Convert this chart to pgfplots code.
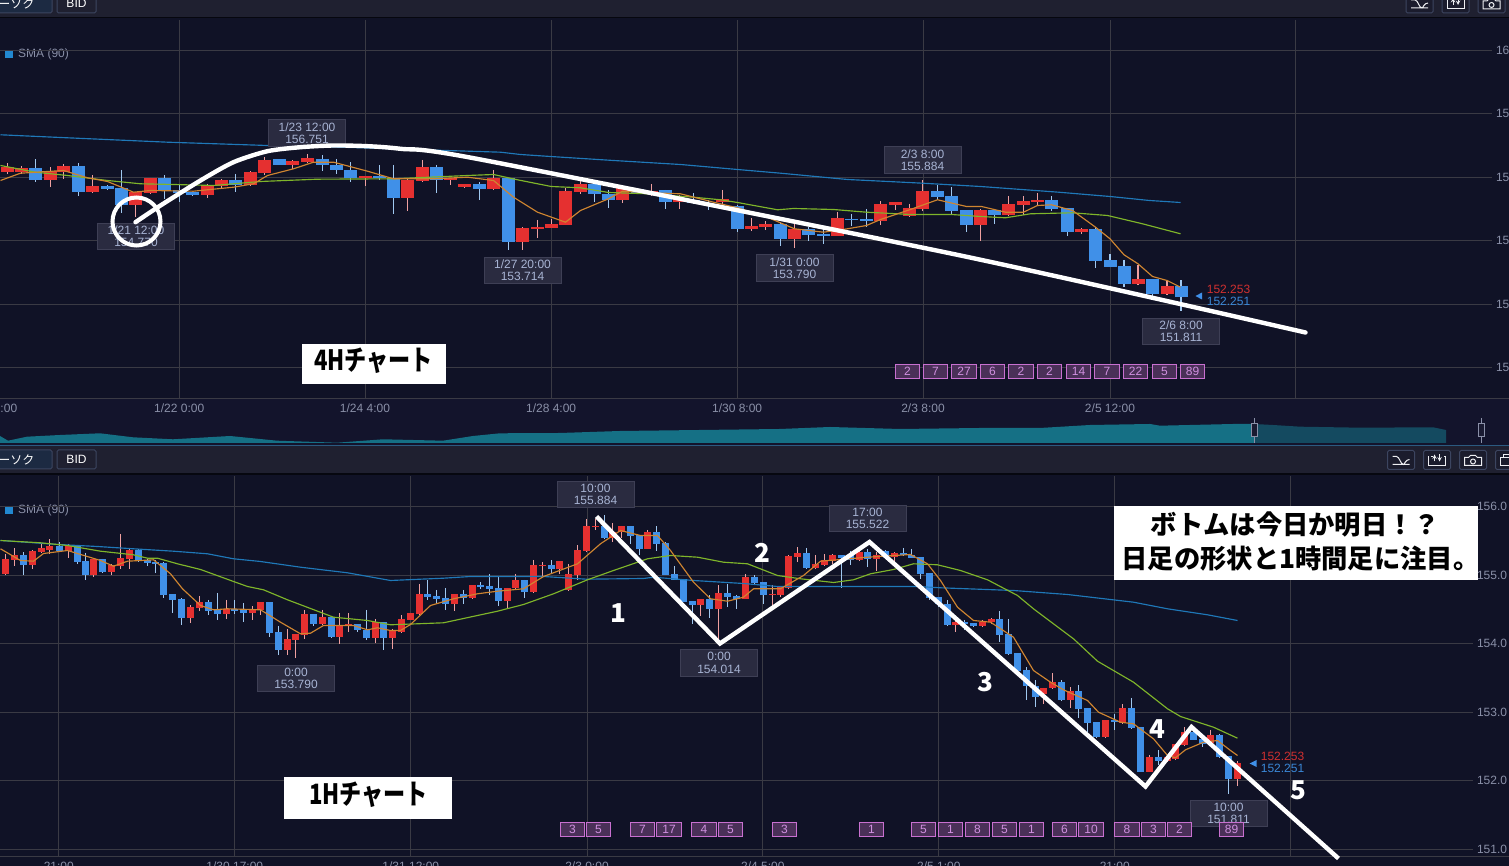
\documentclass[border=0pt]{standalone}
\usepackage{pgfplots}
\usepackage{pgfplotstable}
\usepackage{fontspec}
\pgfplotsset{compat=1.18}
\setmainfont{Liberation Sans}
\newfontfamily\jp{Noto Sans CJK JP}
\definecolor{panel}{HTML}{101226}
\definecolor{strip}{HTML}{13142C}
\definecolor{hdr}{HTML}{1F2030}
\definecolor{gridc}{HTML}{3A3A44}
\definecolor{axt}{HTML}{8A90A8}
\definecolor{bodyB}{HTML}{4090E8}
\definecolor{bodyR}{HTML}{E53030}
\definecolor{wickB}{HTML}{A0C8F0}
\definecolor{wickR}{HTML}{F0A0A0}
\definecolor{smaB}{HTML}{1F78B8}
\definecolor{smaG}{HTML}{7FB52A}
\definecolor{smaO}{HTML}{CF8530}
\definecolor{labF}{HTML}{2A2B40}
\definecolor{labD}{HTML}{3E3F55}
\definecolor{labT}{HTML}{A8B4D4}
\definecolor{bdgF}{HTML}{4A3058}
\definecolor{bdgD}{HTML}{C870D0}
\definecolor{bdgT}{HTML}{D090E0}
\definecolor{priceR}{HTML}{D03030}
\definecolor{priceB}{HTML}{3A88D8}
\definecolor{teal}{HTML}{157085}
\definecolor{tealD}{HTML}{144A60}
\definecolor{icn}{HTML}{3C4560}
\definecolor{sepc}{HTML}{2B5A80}
\definecolor{legb}{HTML}{2288D0}
\definecolor{btnL}{HTML}{1C2A42}

% x, body top, body bottom, high, low (screen positions of the price scale)
\pgfplotstableread{
x t b h l
35.3 167.3 180 158.7 181.7
78.3 165.3 191.7 162.3 195.7
106.7 186 188.7 185 189.3
121.3 188 204.7 169.3 212.7
164 177.3 190 175 198.3
178.7 189.3 192.7 185 201.7
192.3 192 195 191.7 195.3
235.3 180 185 173.3 191.7
278.7 159 165 159 165
321.7 158.3 165 155 170.7
335.7 164.3 170 158.3 174
350.3 169.3 177.7 162 181.7
378.7 176 178 165 180
393.3 177.3 197.7 164.3 213.3
436.3 167 180 164.3 192.3
479.3 184 189 181.7 199.3
507.7 177.3 241.7 177.3 249.3
593.7 184 194 181.7 201.7
608 193.3 200 190 207.7
636.7 188.7 193.3 187.3 194
665.3 189.3 202 189.3 208.3
693.3 199.7 202.7 192.3 203.3
708 203.3 205 200 210
736.7 206 228.7 205 231.7
779.7 224 239 221.7 245.7
808.3 228.7 235 226.7 240.7
822.7 234 236 228.3 243.3
851.3 218.3 220 214 226
865.7 219 221 208.3 226.7
937.3 191 197 185 199.3
951.3 196 211 186.7 215
965.7 210 225 210 231.7
994 210 215 208.3 223.3
1051 200 209 196 210.7
1067 208 232 208 235.7
1095 229 261 226.7 267.7
1109.5 260 267 254 267
1123.5 266 284 259.3 286.7
1152 279 294 279 296
1180.5 286 297 280 310.7
}\topB
\pgfplotstableread{
x t b h l
6.7 167 172 163 174
20.7 167.3 172 166 173.3
49.7 170.7 180 166.7 186.7
63.3 165.3 171.3 164 178.3
92.3 186 192 175 192.7
135.3 192 204.7 191.7 216.7
149.7 177.3 192.7 177.3 193.3
207.3 185.3 195 183.3 197.3
221.3 180 186 178.7 187.3
250.3 172 185 170.7 186
264.3 159.3 172.7 156.7 175
292.3 161 164.7 160 168.3
307.3 158 162 153.3 162.7
364.7 176 177.7 176 185.7
407.3 180 197.7 179 210.7
421.7 167 180.7 159.3 181.3
450.3 177.3 180 177.3 185
464.3 184 187 184 187.3
493.3 177.3 189 169.3 189.3
522.3 228 241.7 226.7 249.3
536.7 227 228.7 219.3 237.7
550.7 223.3 227.7 218.3 228
565.3 191 224.3 187.3 224.7
579.7 184 191.7 179.3 193.3
622.3 187 200 186.7 202.7
650.7 190.7 193.3 183.3 195.3
679.3 198 202 195 208.7
722.3 198.3 201.7 189.3 204
751.3 226 229 217.3 230.7
765.3 224 227 220.7 230
794.3 228.7 239 224 247.3
837.3 218 235.7 211.3 236
880.3 204 220.7 201 224.7
894.7 202 205 202 210
908.7 208 216 203.3 216.7
922.3 191 209 180 210.7
980 210 225 208.3 240.7
1008 204 215 196 215.7
1023 201 205 196 214.3
1037 200 202 192.7 206
1081 229 232 227.3 234
1137.5 279 284 265 285
1166.5 286 294 279.3 295
}\topR
\pgfplotstableread{
x t b h l
23.3 555 565 551.7 574.3
58.7 546 551 541.7 551
76.7 544.3 562 544.3 563.3
84.7 561 575 552.3 579.3
102.3 559 572 558.3 572.3
137.7 550 560.3 548.3 561.7
146.7 560 563 558.3 565.7
155.3 561.7 564 559.3 572.7
163.3 563 595 561.7 597.7
172.3 594 600 594 612.3
181.3 599 618 597.7 624.3
207.7 602 611 599.3 614.7
216.7 609.3 614 592.3 619.3
234.3 608.7 611 599.3 613.3
243.3 610 612.7 602.3 621.3
269.3 602 633 602 636.7
278.3 632 650 625.3 654.7
313.3 614 624 614 625.3
331.3 617 637 617 638
357.3 624 630 624 631.7
366.3 630 638 609.3 640
383.3 622 638 621.3 649.3
427.3 594 597 579.3 600
436.3 596 599 589.3 603.3
445.3 598 604 587.3 610
463.3 594 598 589.3 604
480.3 585 587 581.7 588.3
489.3 586 589 573.3 595
498.3 588 601 576 606
524.3 580 592 579.3 597.7
551.3 565 569 560 572.7
603.7 526 538 515 539
630.3 526 536 526 543.3
639.3 535 549 535 555
656.3 532 544 526 550.7
665.3 543 575 542 575
674.3 574 579.3 565.3 580
683.3 578.3 602 578.3 602
691.7 601 605 601 624
709.3 599 609 595 617.3
727.3 593 597 584 606.7
736.3 596 599 595 608.3
753.7 577 583 575 583.3
762.7 582 595 582 604
806.3 553 568 547.3 568.7
841.3 555 558 555 587.3
850 555 560 550.7 564.7
867.3 552 559 548.3 566.7
885.3 551 557 550 557.3
903.3 553 555 547.3 556
911.3 554.3 558 548.3 558
920.3 557 574 557 578.3
929.3 573 598 573 600
938.3 597 604 597 606.7
947.3 604 625 600 626
964.3 622 624 620 629.3
973.3 623 626 623 626.7
999.3 619 635 611 641.7
1008.3 634 654 618.3 655
1017.3 653 671 653 671.7
1026.3 670 686 666.7 700
1035.3 685.3 696.7 680 706.7
1061.3 682 700 680 700.7
1078.3 691 709 685 717.3
1087.3 708 723 708 731.7
1096.3 722 737 722 737.3
1114.3 720 722 713.3 730
1131.3 708 728 697.3 728.3
1140.3 727 772 727 772
1158.3 757 761 750 765
1193.3 732 740 726.7 740
1202.3 739 743.3 735 746.7
1219.3 735 757 733.3 757.3
1228.3 756 779 756 794
}\botB
\pgfplotstableread{
x t b h l
5.3 559 574 553.3 575
14.3 555 560 547.3 565.7
32.3 551 565 550 568.7
40.7 547.7 552 543.3 552.7
49.3 546 549.3 539 553.3
67.7 545.3 551 543.3 557.3
93.3 559 575 558.3 576.7
111.3 565 572 563.3 574.3
120.3 558 566 533.3 568.3
128.7 550 559 548.3 568.7
190.3 607 618 605 622.3
199.3 602 608 596 610.7
225.7 608.3 614 599.3 618.7
251.7 609 612.7 606 620
260.3 602 610 602 615
287.3 639 650 628.3 654.7
295.3 634 640 634 657.3
304.3 614 634.7 610 638.7
322.3 617 624 609.3 624.7
339.3 625 637 612.7 643.7
348.3 624 625.7 612.3 631.7
375.3 622 638 618.3 643
392.3 631 638 628.3 648.7
401.3 619 632 614.3 632.7
410.3 613 620 613 620
419.3 594 614 583.3 614.7
454.3 594 604 594 611
471.7 585 598 585 598.7
507.3 587.3 601 587.3 608.3
515.3 580 588 574 589
533.3 565 592 559.3 592.3
542.3 565 566 561.7 576
559.3 561 569 561 573.3
568.3 574 590 563.3 590.7
577.3 550 575 545 580
586.3 526 551 519 551.7
595.3 526 527 518.3 530
612.3 532 538 522.3 541.7
621.3 526 532 525.3 537.3
647.3 532 549 529.3 549
700.3 599 605 599 616
718.3 593 609 584.7 640
744.7 577 599 574 599
771.7 594 595 585 606.7
780 587 595 587 596.7
788.3 556 588 555 588.3
797.3 553 557 546.7 561.7
815.3 564 568 555 568.7
823.7 560 565 554 566
832 555 561 554 563.3
859.3 552 560 548 560.7
876.3 555 559 552 570.7
894.3 553 557 552 565
955.3 622 625 620 631.7
982.3 622 626 620 626.7
991.3 619 622 618 623.3
1043.3 687.3 694 687.3 704
1052.3 682 688 673 688.3
1070.3 691 700 686.7 707.3
1105.3 720 737 720 737.3
1122.3 708 723 704 723.3
1149.3 757 772 755 772
1167.3 757 761 756 761.7
1175.3 744 759 744 759.3
1184.3 732 745 726.7 745.3
1210.3 735 743 729.3 743.3
1237.3 763 779 761 786
}\botR

\newcommand\candles[4]{%
 \addplot[draw=none,forget plot,error bars/.cd,y dir=plus,y explicit,error mark=none,
   error bar style={line width=1.2pt,draw=#2}]
   table[x=x,y=h,y error plus expr=\thisrow{l}-\thisrow{h}] {#1};
 \addplot[draw=none,forget plot,error bars/.cd,y dir=plus,y explicit,error mark=none,
   error bar style={line width=#4,draw=#3}]
   table[x=x,y=t,y error plus expr=\thisrow{b}-\thisrow{t}] {#1};
}
\tikzset{
 lab/.style={fill=labF,draw=labD,line width=1pt,text=labT,align=center,inner sep=0pt,
   minimum width=77pt,minimum height=26.5pt,font=\fontsize{12}{12.3}\selectfont},
 bdg/.style={fill=bdgF,draw=bdgD,line width=1pt,text=bdgT,inner sep=0pt,
   minimum width=24.5pt,minimum height=14.3pt,font=\fontsize{12}{12}\selectfont},
 wbox/.style={fill=white,inner sep=0pt},
 wtxt/.style={text=black,inner sep=0pt,font=\jp\bfseries\fontsize{26.3}{26.3}\selectfont},
 wcond/.style={text=black,inner sep=0pt,xscale=.79,font=\jp\bfseries\fontsize{28}{28}\selectfont},
 wnum/.style={text=white,font=\jp\bfseries\fontsize{26}{26}\selectfont,inner sep=0pt},
}
\newcommand\lab[3]{\node[lab] at (axis cs:#1) {#2\\#3};}
\newcommand\bdg[2]{\node[bdg] at (axis cs:#1) {#2};}
\pgfplotsset{panel/.style={
  scale only axis,anchor=south west,y dir=reverse,clip=false,
  axis line style={draw=none},major tick length=0pt,
  grid=major,grid style={gridc,line width=1pt},
  xticklabel pos=lower,yticklabel pos=right,
  tick label style={font=\fontsize{12}{14}\selectfont,text=axt},
  xticklabel style={anchor=center,yshift=-9.5pt},
  yticklabel style={anchor=west,xshift=1pt},
  sma/.style={line width=1.15pt}
}}
\newcommand\icons{%
 \draw[icn,fill=hdr!70!panel,line width=1pt,rounded corners=1.5pt] (0,0) rectangle (27,19) (36,0) rectangle (63,19) (72,0) rectangle (99,19) (108,0) rectangle (135,19);
 \begin{scope}[white!85!axt,line width=1pt]
 \draw (5,14) -- (22,14) (5,6) -- (9,6) .. controls (12,6) and (13,14) .. (16,14) .. controls (17,14) and (18,9) .. (22,9);
 \draw (41,6) -- (41,15) -- (58,15) -- (58,6) -- (56,6) (43,6) -- (45,6);
 \draw[-stealth] (47,11) -- (47,4);
 \draw[-stealth] (52,4) -- (52,11);
 \draw (77,7) -- (81,7) -- (83,5) -- (88,5) -- (90,7) -- (94,7) -- (94,15) -- (77,15) -- cycle;
 \draw (85.5,11) circle (2.5);
 \draw (113,7) rectangle (125,15) (116,7) -- (116,4) -- (129,4) -- (129,11) -- (125,11);
 \end{scope}
}
\begin{document}
\begin{tikzpicture}[line cap=butt]
\path[use as bounding box] (0,0) rectangle (1509pt,866pt);
\clip (0,0) rectangle (1509pt,866pt);
\begin{scope}[x=1pt,y=-1pt,yshift=866pt]
 \fill[panel] (0,0) rectangle (1509,866);
 \fill[hdr] (0,0) rectangle (1509,17);
 \fill[black!60!panel] (0,17) rectangle (1509,18.5);
 \fill[strip] (0,398) rectangle (1509,445);
 \fill[hdr] (0,445) rectangle (1509,473);
 \fill[black!60!panel] (0,473) rectangle (1509,475);
 \fill[sepc] (0,444.6) rectangle (1509,446);
 \draw[gridc,line width=1pt] (0,398.5) -- (1509,398.5) (0,856.5) -- (1509,856.5);
 % header buttons
 \foreach \yy in {-6,450}{
  \draw[icn,fill=btnL,line width=1pt,rounded corners=1.5pt] (-6,\yy) rectangle (52,\yy+19);
  \draw[icn,fill=hdr,line width=1pt,rounded corners=1.5pt] (57,\yy) rectangle (96,\yy+19);
  \node[text=white,font=\fontsize{12}{12}\selectfont] at (76.5,\yy+9.8) {BID};
  \node[anchor=east,text=white,font=\jp\fontsize{12}{12}\selectfont] at (38,\yy+9.8) {ローソク};
  \fill[legb] (5,\yy+56) rectangle (13,\yy+64);
  \node[anchor=west,text=axt,font=\fontsize{12}{12}\selectfont,inner sep=0pt] at (18,\yy+60.5) {SMA (90)};
 }
 \begin{scope}[shift={(1406,-6)}]\icons\end{scope}
 \begin{scope}[shift={(1387.5,450.5)}]\icons\end{scope}
 \node[text=axt,font=\fontsize{12}{14}\selectfont] at (5.5,408.5) {0:00};
\end{scope}

% navigator
\begin{axis}[scale only axis,at={(0pt,421pt)},anchor=south west,width=1509pt,height=30pt,
  xmin=0,xmax=1509,ymin=415,ymax=445,y dir=reverse,axis lines=none,clip=false]
 \addplot[fill=teal,draw=none] coordinates {(0,443)(0,436)(8,440.7)(27,436.7)(60,435)(100,433.3)(133,437.3)(173,439.3)(230,436)(277,440.7)(337,442.7)(383,439.3)(443,440.7)(473,436)(500,433.3)(560,433)(620,431)(700,430)(780,429)(830,427)(900,429)(980,428)(1040,428)(1090,425)(1150,424)(1160,425.7)(1233,424)(1254,424)(1254,443)};
 \addplot[fill=tealD,draw=none] coordinates {(1254,443)(1254,424)(1273,425)(1300,426.7)(1360,427.7)(1433,427.3)(1446,430)(1446,443)};
 \draw[axt,line width=1pt] (axis cs:1254,418) -- (axis cs:1254,443) (axis cs:1481.5,418) -- (axis cs:1481.5,443);
 \draw[axt,fill=strip!70!labF,line width=1pt] (axis cs:1251,424) rectangle (axis cs:1257,437);
 \draw[axt,fill=strip!70!labF,line width=1pt] (axis cs:1478.5,424) rectangle (axis cs:1484.5,437);
\end{axis}

% 4H panel
\begin{axis}[panel,at={(0.5pt,467.5pt)},width=1491pt,height=378pt,xmin=0,xmax=1491,ymin=20,ymax=398,
  xtick={178.7,364.5,550.6,736.6,922.5,1109.5,1295},
  xticklabels={1/22 0:00,1/24 4:00,1/28 4:00,1/30 8:00,2/3 8:00,2/5 12:00,{}},
  ytick={50,113,177,240,304,367},yticklabels={16,15,15,15,15,15}]
 \candles{\topB}{wickB}{bodyB}{13pt}
 \candles{\topR}{wickR}{bodyR}{13pt}
 \addplot[smaB,sma] coordinates {(0,134.3)(60,137)(167,141.7)(267,145)(350,147)(500,151.7)(520,154)(550,156)(613,160)(680,164)(737,169)(780,172.7)(847,179)(922,182.7)(980,186)(1058,191.7)(1109.5,196)(1149,200)(1180,202)};
 \addplot[smaG,sma] coordinates {(0,165)(35,171.7)(67,175)(107,180)(140,183.3)(173,184)(213,185)(260,181)(317,178.7)(393,178.3)(467,175)(493,174)(517,179.3)(550.7,186)(580,187.3)(608,192)(647,193.3)(693,196.7)(720,199.3)(737,202)(777,209.3)(793,208)(833,209)(866,211.7)(910,214)(951,214)(980,216)(1005,217.3)(1030,213.3)(1072,212.3)(1107,215)(1142,223.3)(1180,233.3)};
 \addplot[smaO,sma] coordinates {(0,180)(20,172.7)(63,170)(87,177.3)(107,181)(133,191.7)(150,190)(193,190.7)(233,186.7)(253,183.3)(267,175)(293,168.3)(313,161.7)(333,161.7)(367,170.7)(393,178.3)(433,178.3)(467,176.7)(493,180)(513,196.7)(537,211.7)(565,221.7)(580,210)(608,198.3)(622,190.7)(651,192.3)(680,193.3)(713,201.7)(737,207.3)(765,216)(794,228.3)(823,231.7)(847,228.3)(866,225)(880,219)(909,209.3)(937,199.3)(966,206)(981,206)(1005,211.7)(1023,211.7)(1037,205)(1051,204.3)(1072,210)(1095,226.7)(1109.5,238.3)(1123.5,254.3)(1137.5,263.3)(1152,276)(1166.5,280)(1180,286.7)};
 \lab{135.5,236}{1/21 12:00}{154.770}
 \lab{306.5,132.5}{1/23 12:00}{156.751}
 \lab{522,270}{1/27 20:00}{153.714}
 \lab{794,267.5}{1/31 0:00}{153.790}
 \lab{922,159.5}{2/3 8:00}{155.884}
 \lab{1180.5,331}{2/6 8:00}{151.811}
 \node[text=priceR,font=\fontsize{12}{12}\selectfont] at (axis cs:1228,289) {152.253};
 \node[text=priceB,font=\fontsize{12}{12}\selectfont] at (axis cs:1228,301) {152.251};
 \fill[bodyB] (axis cs:1195,295.5) -- (axis cs:1201.5,292) -- (axis cs:1201.5,299) -- cycle;
 \bdg{907,371}{2}\bdg{935,371}{7}\bdg{963.5,371}{27}\bdg{992,371}{6}\bdg{1020.5,371}{2}\bdg{1049,371}{2}\bdg{1078,371}{14}\bdg{1106.5,371}{7}\bdg{1135,371}{22}\bdg{1164,371}{5}\bdg{1192,371}{89}
 \node[wbox,minimum width=144pt,minimum height=40pt] at (axis cs:373,364) {};
 \node[wcond] at (axis cs:373,360) {4Hチャート};
 \draw[white,line width=4pt] (axis cs:136,221) circle [radius=24pt];
 \addplot[white,line width=4.4pt,line cap=round,line join=round,smooth,tension=.45] coordinates {(135,221.7)(160,205)(200,180)(233,161.7)(267,150.7)(300,146.7)(333,145)(367,145.7)(400,148.3)(480,159)(960,255)(1305,332)};
\end{axis}

% 1H panel
\begin{axis}[panel,at={(0.5pt,9.5pt)},width=1472pt,height=380pt,xmin=0,xmax=1472,ymin=476,ymax=856,
  xtick={58.3,234.3,410.3,586.5,762.3,938.3,1114.3,1290.3},
  xticklabels={21:00,1/30 17:00,1/31 12:00,2/3 0:00,2/4 5:00,2/5 1:00,21:00,{}},
  ytick={506,575,643,712,780,849},yticklabels={156.0,155.0,154.0,153.0,152.0,151.0}]
 \candles{\botB}{wickB}{bodyB}{7pt}
 \candles{\botR}{wickR}{bodyR}{7pt}
 \addplot[smaB,sma] coordinates {(0,540)(58,544)(97,546)(133,548.3)(173,550.7)(207,553.3)(233,558.3)(260,561)(300,566.7)(347,572.3)(390,580)(443,577.7)(470,576)(543,576)(586,578.7)(643,578)(653,576.7)(693,580)(743,583)(777,586)(917,586)(940,587.3)(1013,590)(1067,594)(1133,601.7)(1167,608.3)(1207,614.3)(1237,620)};
 \addplot[smaG,sma] coordinates {(0,540)(40,542.3)(67,545)(100,550.7)(133,554.3)(147,557.7)(157,557.7)(177,563.3)(200,569)(233,581)(247,586)(263,589.3)(287,599.3)(333,616.7)(367,620)(390,624.3)(443,622.3)(497,610.7)(523,604)(553,593.3)(587,579.3)(613,570)(647,558.3)(670,555)(697,556.7)(723,561.7)(747,563.3)(777,575)(800,578.3)(833,582)(853,579.3)(870,573.3)(893,569)(913,563.3)(937,564.3)(960,570)(987,579.3)(1017,595)(1033,608.3)(1073,638.3)(1097,660.7)(1133,681.7)(1167,708.3)(1180,716)(1213,726.7)(1237,737.7)};
 \addplot[smaO,sma] coordinates {(0,548.3)(20,560)(33,560.7)(43,553)(67,550)(100,560)(113,565.7)(127,560.7)(153,559.3)(170,573.3)(182,588.3)(200,605)(213,609.3)(227,608.3)(260,609.3)(280,621.7)(300,633.3)(310,632.7)(323,625)(353,625)(367,629.3)(377,627.3)(390,630)(400,630)(410,624)(430,605)(453,598.3)(477,593.3)(497,590.7)(523,588.3)(543,576)(577,563.3)(600,543.3)(620,530)(640,535)(657,535)(670,550)(693,581.7)(710,598.3)(727,600.7)(743,596.7)(753,588.3)(780,588.3)(803,575)(820,560.7)(867,556.7)(910,554)(927,563.3)(940,580)(957,606.7)(973,620)(990,621.7)(1013,636.7)(1033,670)(1050,681.7)(1063,689.3)(1087,700)(1098,711.7)(1120,721.7)(1133,723.3)(1153,738.3)(1167,755)(1175,757.3)(1185,749.3)(1203,741.7)(1217,740)(1230,750)(1237,755)};
 \lab{595,494}{10:00}{155.884}
 \lab{867,518}{17:00}{155.522}
 \lab{295.5,678}{0:00}{153.790}
 \lab{718.5,662.5}{0:00}{154.014}
 \lab{1228,813}{10:00}{151.811}
 \node[text=priceR,font=\fontsize{12}{12}\selectfont] at (axis cs:1282,756) {152.253};
 \node[text=priceB,font=\fontsize{12}{12}\selectfont] at (axis cs:1282,768) {152.251};
 \fill[bodyB] (axis cs:1249,763) -- (axis cs:1256,759.5) -- (axis cs:1256,766.5) -- cycle;
 \bdg{572,829}{3}\bdg{598,829}{5}\bdg{642,829}{7}\bdg{668.5,829}{17}\bdg{703.5,829}{4}\bdg{730,829}{5}\bdg{784,829}{3}\bdg{871,829}{1}\bdg{923,829}{5}\bdg{950,829}{1}\bdg{977,829}{8}\bdg{1004,829}{5}\bdg{1031,829}{1}\bdg{1064,829}{6}\bdg{1090.5,829}{10}\bdg{1126.5,829}{8}\bdg{1153,829}{3}\bdg{1179,829}{2}\bdg{1231,829}{89}
 \node[wbox,minimum width=168pt,minimum height=42pt] at (axis cs:367,798) {};
 \node[wcond] at (axis cs:368,794.5) {1Hチャート};
 \node[wbox,minimum width=364pt,minimum height=74pt] at (axis cs:1295,543) {};
 \node[wtxt] at (axis cs:1295,524) {ボトムは今日か明日！？};
 \node[wtxt] at (axis cs:1300,558) {日足の形状と1時間足に注目。};
 \addplot[white,line width=4.4pt,line join=miter] coordinates {(596,516)(719.5,643)(869,541.5)(1145,786)(1191,726.5)(1338,858)};
 \node[wnum] at (axis cs:618,613) {1};
 \node[wnum] at (axis cs:762,552) {2};
 \node[wnum] at (axis cs:985,682) {3};
 \node[wnum] at (axis cs:1157,729) {4};
 \node[wnum] at (axis cs:1298,790) {5};
\end{axis}
\end{tikzpicture}
\end{document}
